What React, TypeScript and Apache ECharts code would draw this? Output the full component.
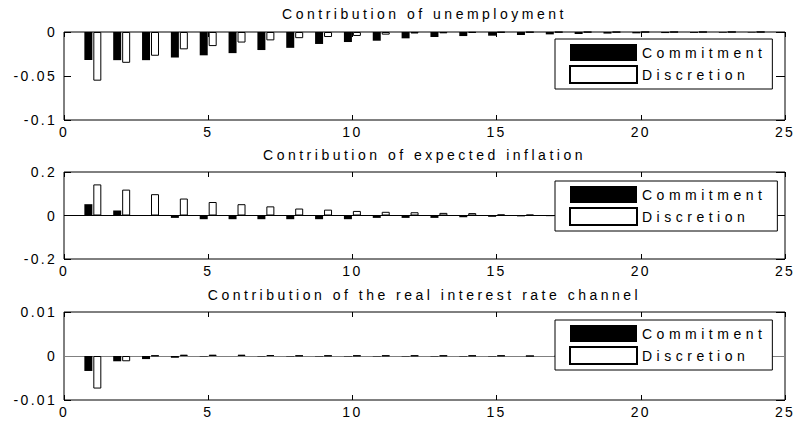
import React, { useEffect, useRef } from "react";
import * as echarts from "echarts";

const periods = [1, 2, 3, 4, 5, 6, 7, 8, 9, 10, 11, 12, 13, 14, 15, 16, 17, 18, 19, 20, 21, 22, 23, 24];

const unempCommitment = [-0.0318, -0.032, -0.032, -0.029, -0.0265, -0.024, -0.0205, -0.018, -0.0136, -0.0114, -0.0099, -0.0072, -0.0057, -0.0046, -0.0042, -0.0034, -0.0027, -0.0023, -0.0018, -0.0015, -0.0012, -0.001, -0.0008, -0.0006];
const unempDiscretion = [-0.0553, -0.035, -0.027, -0.0197, -0.016, -0.012, -0.0095, -0.007, -0.0057, -0.0045, -0.003, -0.0017, -0.0015, -0.0009, -0.0006, -0.0004, -0.0003, -0.0002, -0.0002, -0.0001, -0.0001, -0.0001, 0, 0];

const inflCommitment = [0.052, 0.023, -0.001, -0.011, -0.017, -0.017, -0.017, -0.017, -0.017, -0.017, -0.011, -0.011, -0.011, -0.008, -0.006, -0.004, -0.003, -0.002, -0.002, -0.001, -0.001, -0.001, 0, 0];
const inflDiscretion = [0.143, 0.119, 0.098, 0.078, 0.062, 0.052, 0.042, 0.032, 0.027, 0.021, 0.017, 0.015, 0.012, 0.011, 0.005, 0.004, 0.003, 0.002, 0.002, 0.001, 0.001, 0.001, 0, 0];

const rateCommitment = [-0.0034, -0.0012, -0.0007, -0.0004, -0.0001, 0, -0.0001, -0.0001, -0.0001, -0.0001, -0.0001, -0.0001, -0.0001, -0.0001, -0.0001, 0, 0, 0, 0, 0, 0, 0, 0, 0];
const rateDiscretion = [-0.0074, -0.0012, 0.0001, 0.0003, 0.0003, 0.0003, 0.0002, 0.0001, 0.0001, 0.0001, 0.0001, 0.0001, 0.0001, 0.0001, 0.0001, 0, 0, 0, 0, 0, 0, 0, 0, 0];

const seriesNames = ["Commitment", "Discretion"];
const panelTitles = [
  "Contribution of unemployment",
  "Contribution of expected inflation",
  "Contribution of the real interest rate channel",
];
const xRange = { min: 0, max: 25, interval: 5 };
const yRanges = [
  { min: -0.1, max: 0, interval: 0.05 },
  { min: -0.2, max: 0.2, interval: 0.2 },
  { min: -0.01, max: 0.01, interval: 0.01 },
];

const commitmentData = [unempCommitment, inflCommitment, rateCommitment];
const discretionData = [unempDiscretion, inflDiscretion, rateDiscretion];

// layout (positions/styles)
const layout = [
  { top: 32, height: 88, titleY: 14, legendTop: 39, legendPadRight: 51, baseline: null as string | null },
  { top: 172, height: 87, titleY: 155, legendTop: 181, legendPadRight: 56, baseline: "#000" },
  { top: 312, height: 88, titleY: 295, legendTop: 320, legendPadRight: 51, baseline: "#808080" },
];

const TITLE_FONT = "Liberation Sans, titlefont";
const LEGEND_FONT = "Liberation Sans, legendfont";
const TICK_FONT = "Liberation Sans, tickfont";

const css = `
.mchart text { letter-spacing: 3.5px; }
.mchart text[style*="legendfont"], .mchart text[font-family*="legendfont"] { letter-spacing: 4.5px; }
.mchart text[style*="tickfont"], .mchart text[font-family*="tickfont"] { letter-spacing: 2.3px; }
`;

export default function App() {
  const ref = useRef<HTMLDivElement>(null);

  useEffect(() => {
    if (!ref.current) return;
    const chart = echarts.init(ref.current, null, { renderer: "svg" });

    const grid: any[] = [];
    const xAxis: any[] = [];
    const yAxis: any[] = [];
    const series: any[] = [];
    const legend: any[] = [];
    const graphic: any[] = [];

    const noLine = { show: false, onZero: false };

    layout.forEach((p, i) => {
      grid.push({
        left: 64,
        width: 721,
        top: p.top,
        height: p.height,
        show: true,
        borderColor: "#000",
        borderWidth: 1,
        backgroundColor: "transparent",
        containLabel: false,
        outerBoundsMode: "none",
      });
      const tickLabel = { color: "#000", fontSize: 14, fontFamily: TICK_FONT };
      xAxis.push({
        type: "value",
        gridIndex: i,
        position: "bottom",
        ...xRange,
        axisLine: noLine,
        splitLine: { show: false },
        axisTick: { inside: true, length: 5, lineStyle: { color: "#000" } },
        axisLabel: { ...tickLabel, margin: 5 },
      });
      xAxis.push({
        type: "value",
        gridIndex: i,
        position: "top",
        ...xRange,
        axisLine: noLine,
        splitLine: { show: false },
        axisTick: { inside: true, length: 5, lineStyle: { color: "#000" } },
        axisLabel: { show: false },
      });
      yAxis.push({
        type: "value",
        gridIndex: i,
        position: "left",
        ...yRanges[i],
        axisLine: noLine,
        splitLine: { show: false },
        axisTick: { inside: true, length: 7, lineStyle: { color: "#000" } },
        axisLabel: { ...tickLabel, margin: 7 },
      });
      yAxis.push({
        type: "value",
        gridIndex: i,
        position: "right",
        ...yRanges[i],
        axisLine: noLine,
        splitLine: { show: false },
        axisTick: { inside: true, length: 9, lineStyle: { color: "#000" } },
        axisLabel: { show: false },
      });
      const c: any = {
        type: "bar",
        name: seriesNames[0],
        xAxisIndex: 2 * i,
        yAxisIndex: 2 * i,
        data: periods.map((k, j) => [k, commitmentData[i][j]]),
        barWidth: 8,
        barGap: "12%",
        itemStyle: { color: "#000", borderColor: "#000", borderWidth: 0 },
        emphasis: { disabled: true },
      };
      if (p.baseline) {
        c.markLine = {
          silent: true,
          z: 1,
          symbol: ["none", "none"],
          label: { show: false },
          lineStyle: { type: "solid", width: 1, color: p.baseline },
          emphasis: { disabled: true },
          data: [{ yAxis: 0 }],
        };
      }
      series.push(c);
      series.push({
        type: "bar",
        name: seriesNames[1],
        xAxisIndex: 2 * i,
        yAxisIndex: 2 * i,
        data: periods.map((k, j) => [k, discretionData[i][j]]),
        barWidth: 8,
        barGap: "12%",
        itemStyle: { color: "#fff", borderColor: "#000", borderWidth: 1 },
        emphasis: { disabled: true },
      });
      legend.push({
        data: seriesNames,
        orient: "vertical",
        left: 555,
        top: p.legendTop,
        z: 20,
        itemWidth: 67,
        itemHeight: 17,
        itemGap: 4,
        padding: [5, p.legendPadRight, 5, 14],
        borderColor: "#000",
        borderWidth: 1,
        borderRadius: 0,
        backgroundColor: "#fff",
        icon: "rect",
        selectedMode: false,
        textStyle: { fontSize: 14, fontFamily: LEGEND_FONT, color: "#000" },
      });
      graphic.push({
        type: "text",
        x: 424.5,
        y: p.titleY,
        style: {
          text: panelTitles[i],
          fontSize: 14,
          fontFamily: TITLE_FONT,
          fill: "#000",
          align: "center",
          textAlign: "center",
          verticalAlign: "middle",
          textVerticalAlign: "middle",
        },
      });
    });

    chart.setOption({
      animation: false,
      backgroundColor: "#fff",
      grid,
      xAxis,
      yAxis,
      series,
      legend,
      graphic,
    });

    return () => chart.dispose();
  }, []);

  return (
    <>
      <style>{css}</style>
      <div
        ref={ref}
        className="mchart"
        style={{ position: "absolute", left: 0, top: 0, width: 794, height: 424 }}
      />
    </>
  );
}
